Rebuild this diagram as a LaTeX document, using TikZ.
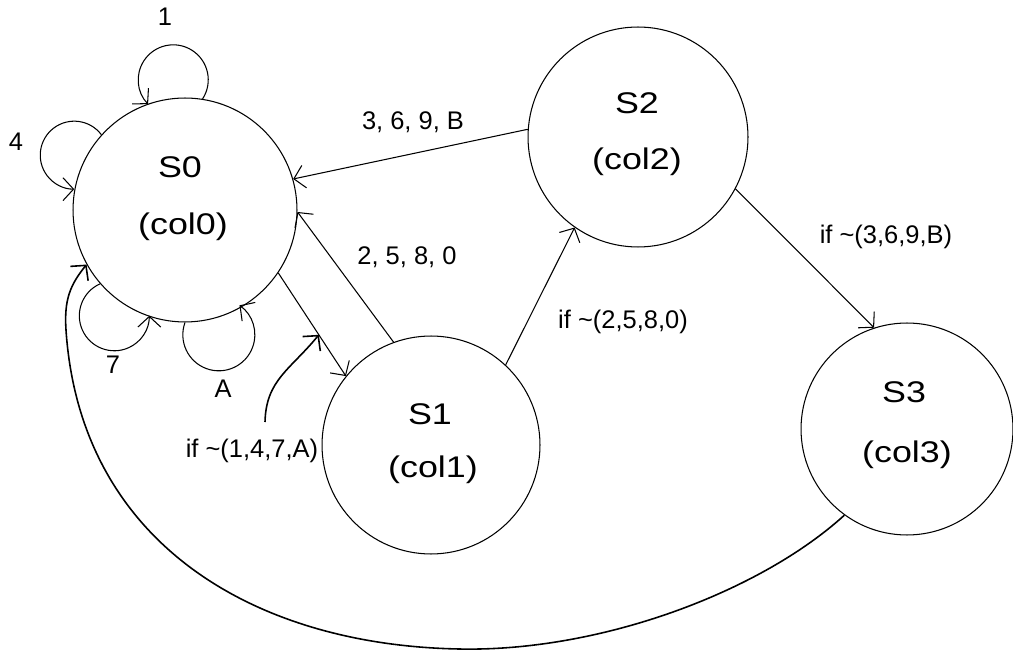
\documentclass[tikz,border=0pt]{standalone}
\usepackage{fontspec}
\setmainfont{Liberation Sans}
\newfontfamily\bigfont[FakeStretch=1.2]{Liberation Sans}
\usetikzlibrary{arrows.meta,calc}
\begin{document}
\begin{tikzpicture}[x=0.02cm,y=0.02cm,
  state/.style={draw,circle,inner sep=0pt,line width=0.6pt},
  bigtxt/.style={font=\bigfont\fontsize{17}{19}\selectfont,inner sep=0pt},
  lbl/.style={font=\fontsize{14.5}{16}\selectfont,inner sep=0pt},
  arr/.style={line width=0.6pt,-{Straight Barb[length=6pt,width=13pt]}},
  thickarr/.style={line width=0.9pt,-{Straight Barb[length=6pt,width=13pt]}},
]
\useasboundingbox (0,0) rectangle (1013,-651);
% states
\node[state,minimum size=4.48cm] (S0) at (185,-210) {};
\node[state,minimum size=4.36cm] (S1) at (431,-445) {};
\node[state,minimum size=4.40cm] (S2) at (638,-137) {};
\node[state,minimum size=4.24cm] (S3) at (907,-429) {};
% state texts
\node[bigtxt] (t0a) at (180,-167) {S0};
\node[bigtxt] (t0b) at (183,-227) {(col0)};
\node[bigtxt] (t1a) at (430,-414) {S1};
\node[bigtxt] (t1b) at (433,-470) {(col1)};
\node[bigtxt] (t2a) at (637,-103) {S2};
\node[bigtxt] (t2b) at (637,-162) {(col2)};
\node[bigtxt] (t3a) at (904,-392) {S3};
\node[bigtxt] (t3b) at (907,-455) {(col3)};
% self loops on S0
\draw[arr] (S0.81) arc[start angle=-33,end angle=224,radius=0.7cm];
\draw[arr] (S0.138) arc[start angle=37,end angle=270,radius=0.68cm];
\draw[arr] (S0.221) arc[start angle=114,end angle=360,radius=0.7cm];
\draw[arr] (S0.270) arc[start angle=160,end angle=415,radius=0.72cm];
\node[lbl] (l1) at (165,-17) {1};
\node[lbl] (l4) at (16,-142) {4};
\node[lbl] (l7) at (113,-365) {7};
\node[lbl] (lA) at (223,-389) {A};
% transitions
\draw[arr] (S2.176) -- (S0.16.5);
\node[lbl] (l369) at (413,-122) {3, 6, 9, B};
\draw[arr] (S1.110) -- (S0.359);
\node[lbl] (l258) at (407,-257) {2, 5, 8, 0};
\draw[arr] (S0.326.5) -- coordinate[pos=0.6] (e01) (S1.141.5);
\draw[arr] (S1.47) -- (S2.235.5);
\node[lbl] (lif2) at (623,-322) {if \textasciitilde(2,5,8,0)};
\draw[arr] (S2.332) -- (S3.108.6);
\node[lbl] (lif3) at (886,-237) {if \textasciitilde(3,6,9,B)};
\draw[thickarr] (S3.234) .. controls (760,-592) and (600,-652) .. (459,-649)
  .. controls (250,-645) and (80,-540) .. (66,-330)
  .. controls (64,-300) and (70,-285) .. (S0.209);
% annotation for S0 -> S1
\coordinate (ann) at (265,-422);
\draw[thickarr] (ann) .. controls (266,-380) and (290,-370) .. (e01);
\node[lbl] (lif1) at (252,-451) {if \textasciitilde(1,4,7,A)};
\end{tikzpicture}
\end{document}
